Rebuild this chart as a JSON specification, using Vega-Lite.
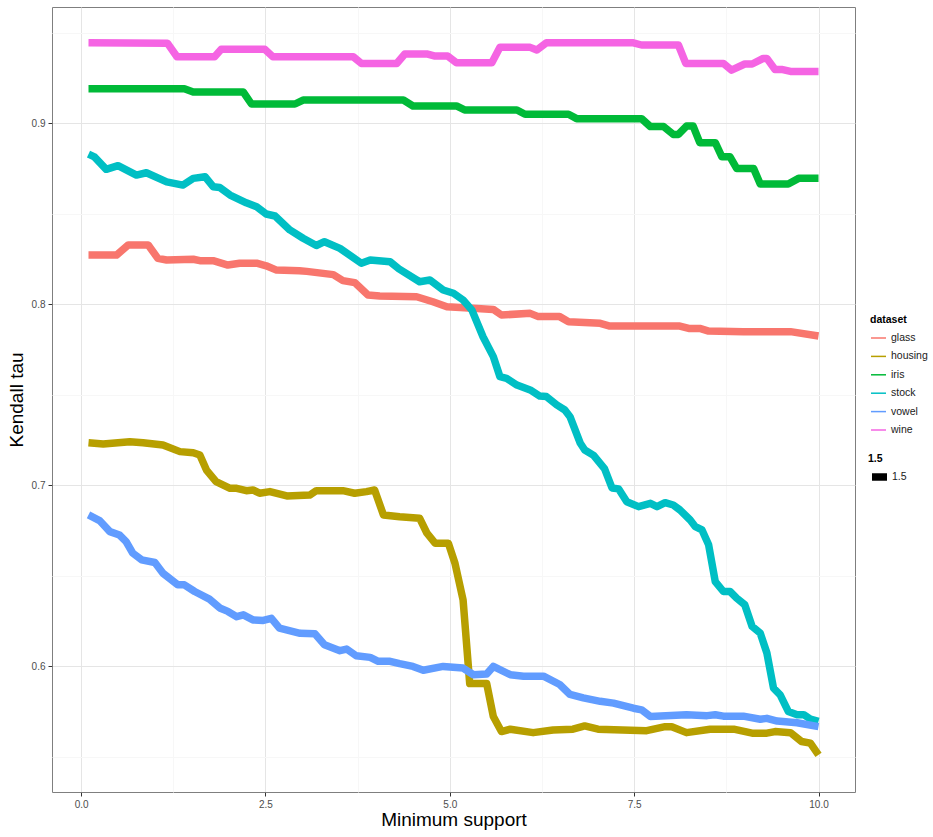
{
  "$schema": "https://vega.github.io/schema/vega-lite/v6.json",
  "autosize": {"type": "none"},
  "padding": {"left": 52, "top": 7, "right": 78, "bottom": 45},
  "width": 803,
  "height": 785,
  "background": "white",
  "config": {
    "font": "Liberation Sans",
    "view": {"stroke": "#7f7f7f", "strokeWidth": 1},
    "axis": {
      "domain": false,
      "tickSize": 4,
      "tickWidth": 1,
      "labelFontSize": 10,
      "labelColor": "#4d4d4d",
      "titleFontSize": 19,
      "titleFontWeight": "normal",
      "titleColor": "#000000",
      "gridWidth": 1
    }
  },
  "data": {"values": [
    {"dataset":"glass","x":0.1,"y":0.8272},{"dataset":"glass","x":0.48,"y":0.8272},{"dataset":"glass","x":0.64,"y":0.8328},{"dataset":"glass","x":0.91,"y":0.8328},{"dataset":"glass","x":1.04,"y":0.8254},{"dataset":"glass","x":1.16,"y":0.8245},{"dataset":"glass","x":1.52,"y":0.8249},{"dataset":"glass","x":1.61,"y":0.8241},{"dataset":"glass","x":1.79,"y":0.8241},{"dataset":"glass","x":1.99,"y":0.8217},{"dataset":"glass","x":2.15,"y":0.8227},{"dataset":"glass","x":2.38,"y":0.8227},{"dataset":"glass","x":2.51,"y":0.8213},{"dataset":"glass","x":2.65,"y":0.8189},{"dataset":"glass","x":2.96,"y":0.8186},{"dataset":"glass","x":3.06,"y":0.8182},{"dataset":"glass","x":3.42,"y":0.8164},{"dataset":"glass","x":3.55,"y":0.8131},{"dataset":"glass","x":3.71,"y":0.812},{"dataset":"glass","x":3.89,"y":0.8051},{"dataset":"glass","x":4.05,"y":0.8046},{"dataset":"glass","x":4.55,"y":0.8042},{"dataset":"glass","x":4.77,"y":0.8014},{"dataset":"glass","x":4.96,"y":0.7987},{"dataset":"glass","x":5.14,"y":0.7983},{"dataset":"glass","x":5.59,"y":0.7972},{"dataset":"glass","x":5.7,"y":0.7941},{"dataset":"glass","x":6.09,"y":0.795},{"dataset":"glass","x":6.2,"y":0.7932},{"dataset":"glass","x":6.49,"y":0.7932},{"dataset":"glass","x":6.61,"y":0.7904},{"dataset":"glass","x":7.04,"y":0.7895},{"dataset":"glass","x":7.17,"y":0.788},{"dataset":"glass","x":8.12,"y":0.788},{"dataset":"glass","x":8.24,"y":0.7867},{"dataset":"glass","x":8.39,"y":0.7867},{"dataset":"glass","x":8.51,"y":0.7852},{"dataset":"glass","x":8.98,"y":0.7849},{"dataset":"glass","x":9.62,"y":0.7849},{"dataset":"glass","x":10.0,"y":0.7825},
    {"dataset":"housing","x":0.1,"y":0.7235},{"dataset":"housing","x":0.3,"y":0.7228},{"dataset":"housing","x":0.66,"y":0.7241},{"dataset":"housing","x":0.84,"y":0.7235},{"dataset":"housing","x":1.11,"y":0.7223},{"dataset":"housing","x":1.34,"y":0.7186},{"dataset":"housing","x":1.52,"y":0.718},{"dataset":"housing","x":1.61,"y":0.7167},{"dataset":"housing","x":1.7,"y":0.7084},{"dataset":"housing","x":1.83,"y":0.702},{"dataset":"housing","x":2.02,"y":0.6983},{"dataset":"housing","x":2.11,"y":0.6983},{"dataset":"housing","x":2.24,"y":0.697},{"dataset":"housing","x":2.33,"y":0.6974},{"dataset":"housing","x":2.42,"y":0.6956},{"dataset":"housing","x":2.56,"y":0.6965},{"dataset":"housing","x":2.79,"y":0.6941},{"dataset":"housing","x":3.1,"y":0.6946},{"dataset":"housing","x":3.19,"y":0.697},{"dataset":"housing","x":3.55,"y":0.697},{"dataset":"housing","x":3.71,"y":0.6956},{"dataset":"housing","x":3.87,"y":0.6965},{"dataset":"housing","x":3.98,"y":0.6974},{"dataset":"housing","x":4.1,"y":0.6836},{"dataset":"housing","x":4.32,"y":0.6826},{"dataset":"housing","x":4.59,"y":0.6818},{"dataset":"housing","x":4.69,"y":0.6735},{"dataset":"housing","x":4.8,"y":0.668},{"dataset":"housing","x":4.98,"y":0.668},{"dataset":"housing","x":5.07,"y":0.6569},{"dataset":"housing","x":5.18,"y":0.6366},{"dataset":"housing","x":5.27,"y":0.5904},{"dataset":"housing","x":5.5,"y":0.5904},{"dataset":"housing","x":5.59,"y":0.5722},{"dataset":"housing","x":5.7,"y":0.5639},{"dataset":"housing","x":5.82,"y":0.5652},{"dataset":"housing","x":6.13,"y":0.5633},{"dataset":"housing","x":6.4,"y":0.5648},{"dataset":"housing","x":6.67,"y":0.5652},{"dataset":"housing","x":6.83,"y":0.567},{"dataset":"housing","x":7.01,"y":0.5652},{"dataset":"housing","x":7.67,"y":0.5644},{"dataset":"housing","x":7.92,"y":0.5666},{"dataset":"housing","x":8.01,"y":0.5666},{"dataset":"housing","x":8.21,"y":0.5633},{"dataset":"housing","x":8.53,"y":0.5652},{"dataset":"housing","x":8.85,"y":0.5652},{"dataset":"housing","x":9.1,"y":0.563},{"dataset":"housing","x":9.3,"y":0.563},{"dataset":"housing","x":9.41,"y":0.5639},{"dataset":"housing","x":9.62,"y":0.5633},{"dataset":"housing","x":9.77,"y":0.5584},{"dataset":"housing","x":9.89,"y":0.5575},{"dataset":"housing","x":10.0,"y":0.551},
    {"dataset":"iris","x":0.1,"y":0.9191},{"dataset":"iris","x":1.4,"y":0.9191},{"dataset":"iris","x":1.52,"y":0.9173},{"dataset":"iris","x":2.2,"y":0.9173},{"dataset":"iris","x":2.31,"y":0.9107},{"dataset":"iris","x":2.9,"y":0.9107},{"dataset":"iris","x":3.01,"y":0.9129},{"dataset":"iris","x":4.37,"y":0.9129},{"dataset":"iris","x":4.5,"y":0.9096},{"dataset":"iris","x":5.09,"y":0.9096},{"dataset":"iris","x":5.2,"y":0.9074},{"dataset":"iris","x":5.91,"y":0.9074},{"dataset":"iris","x":6.02,"y":0.905},{"dataset":"iris","x":6.61,"y":0.905},{"dataset":"iris","x":6.72,"y":0.9026},{"dataset":"iris","x":7.6,"y":0.9026},{"dataset":"iris","x":7.72,"y":0.8982},{"dataset":"iris","x":7.9,"y":0.8982},{"dataset":"iris","x":8.03,"y":0.8939},{"dataset":"iris","x":8.1,"y":0.8939},{"dataset":"iris","x":8.21,"y":0.8985},{"dataset":"iris","x":8.3,"y":0.8985},{"dataset":"iris","x":8.39,"y":0.8893},{"dataset":"iris","x":8.6,"y":0.8893},{"dataset":"iris","x":8.69,"y":0.8815},{"dataset":"iris","x":8.8,"y":0.8815},{"dataset":"iris","x":8.89,"y":0.8751},{"dataset":"iris","x":9.12,"y":0.8751},{"dataset":"iris","x":9.21,"y":0.8665},{"dataset":"iris","x":9.59,"y":0.8665},{"dataset":"iris","x":9.73,"y":0.8696},{"dataset":"iris","x":10.0,"y":0.8696},
    {"dataset":"stock","x":0.1,"y":0.883},{"dataset":"stock","x":0.18,"y":0.8815},{"dataset":"stock","x":0.34,"y":0.8746},{"dataset":"stock","x":0.5,"y":0.8766},{"dataset":"stock","x":0.75,"y":0.8714},{"dataset":"stock","x":0.885,"y":0.8727},{"dataset":"stock","x":1.16,"y":0.8677},{"dataset":"stock","x":1.38,"y":0.8659},{"dataset":"stock","x":1.52,"y":0.8696},{"dataset":"stock","x":1.68,"y":0.8705},{"dataset":"stock","x":1.79,"y":0.865},{"dataset":"stock","x":1.88,"y":0.8646},{"dataset":"stock","x":2.02,"y":0.8604},{"dataset":"stock","x":2.24,"y":0.8561},{"dataset":"stock","x":2.38,"y":0.8539},{"dataset":"stock","x":2.51,"y":0.8499},{"dataset":"stock","x":2.63,"y":0.8488},{"dataset":"stock","x":2.83,"y":0.8411},{"dataset":"stock","x":3.01,"y":0.8365},{"dataset":"stock","x":3.19,"y":0.8325},{"dataset":"stock","x":3.3,"y":0.8346},{"dataset":"stock","x":3.51,"y":0.8309},{"dataset":"stock","x":3.8,"y":0.8227},{"dataset":"stock","x":3.92,"y":0.8245},{"dataset":"stock","x":4.19,"y":0.8235},{"dataset":"stock","x":4.31,"y":0.8196},{"dataset":"stock","x":4.59,"y":0.8125},{"dataset":"stock","x":4.73,"y":0.8134},{"dataset":"stock","x":4.91,"y":0.8079},{"dataset":"stock","x":5.05,"y":0.8061},{"dataset":"stock","x":5.18,"y":0.8024},{"dataset":"stock","x":5.3,"y":0.7968},{"dataset":"stock","x":5.45,"y":0.7821},{"dataset":"stock","x":5.59,"y":0.7711},{"dataset":"stock","x":5.68,"y":0.76},{"dataset":"stock","x":5.77,"y":0.7591},{"dataset":"stock","x":5.91,"y":0.7554},{"dataset":"stock","x":6.09,"y":0.7527},{"dataset":"stock","x":6.22,"y":0.7493},{"dataset":"stock","x":6.31,"y":0.749},{"dataset":"stock","x":6.45,"y":0.7444},{"dataset":"stock","x":6.56,"y":0.7416},{"dataset":"stock","x":6.63,"y":0.7379},{"dataset":"stock","x":6.77,"y":0.7232},{"dataset":"stock","x":6.83,"y":0.7195},{"dataset":"stock","x":6.95,"y":0.7165},{"dataset":"stock","x":7.1,"y":0.709},{"dataset":"stock","x":7.2,"y":0.6985},{"dataset":"stock","x":7.29,"y":0.698},{"dataset":"stock","x":7.4,"y":0.6909},{"dataset":"stock","x":7.56,"y":0.6882},{"dataset":"stock","x":7.72,"y":0.69},{"dataset":"stock","x":7.81,"y":0.6882},{"dataset":"stock","x":7.92,"y":0.6904},{"dataset":"stock","x":8.03,"y":0.6891},{"dataset":"stock","x":8.12,"y":0.6864},{"dataset":"stock","x":8.26,"y":0.6808},{"dataset":"stock","x":8.33,"y":0.6771},{"dataset":"stock","x":8.42,"y":0.6753},{"dataset":"stock","x":8.51,"y":0.6671},{"dataset":"stock","x":8.6,"y":0.6468},{"dataset":"stock","x":8.71,"y":0.6413},{"dataset":"stock","x":8.8,"y":0.6413},{"dataset":"stock","x":8.89,"y":0.6376},{"dataset":"stock","x":9.0,"y":0.634},{"dataset":"stock","x":9.1,"y":0.622},{"dataset":"stock","x":9.21,"y":0.6183},{"dataset":"stock","x":9.3,"y":0.6073},{"dataset":"stock","x":9.39,"y":0.5879},{"dataset":"stock","x":9.48,"y":0.5842},{"dataset":"stock","x":9.59,"y":0.575},{"dataset":"stock","x":9.71,"y":0.5732},{"dataset":"stock","x":9.8,"y":0.5732},{"dataset":"stock","x":9.89,"y":0.5708},{"dataset":"stock","x":10.0,"y":0.5695},
    {"dataset":"vowel","x":0.1,"y":0.6836},{"dataset":"vowel","x":0.25,"y":0.6805},{"dataset":"vowel","x":0.39,"y":0.6744},{"dataset":"vowel","x":0.52,"y":0.6725},{"dataset":"vowel","x":0.61,"y":0.6689},{"dataset":"vowel","x":0.7,"y":0.6625},{"dataset":"vowel","x":0.82,"y":0.6588},{"dataset":"vowel","x":1.0,"y":0.6573},{"dataset":"vowel","x":1.11,"y":0.6514},{"dataset":"vowel","x":1.31,"y":0.645},{"dataset":"vowel","x":1.4,"y":0.645},{"dataset":"vowel","x":1.54,"y":0.6413},{"dataset":"vowel","x":1.74,"y":0.6371},{"dataset":"vowel","x":1.88,"y":0.6322},{"dataset":"vowel","x":1.99,"y":0.6303},{"dataset":"vowel","x":2.11,"y":0.6274},{"dataset":"vowel","x":2.2,"y":0.6284},{"dataset":"vowel","x":2.33,"y":0.6256},{"dataset":"vowel","x":2.47,"y":0.6253},{"dataset":"vowel","x":2.58,"y":0.6265},{"dataset":"vowel","x":2.69,"y":0.621},{"dataset":"vowel","x":2.97,"y":0.6182},{"dataset":"vowel","x":3.17,"y":0.6179},{"dataset":"vowel","x":3.3,"y":0.6119},{"dataset":"vowel","x":3.51,"y":0.6086},{"dataset":"vowel","x":3.6,"y":0.6095},{"dataset":"vowel","x":3.73,"y":0.6058},{"dataset":"vowel","x":3.92,"y":0.6049},{"dataset":"vowel","x":4.03,"y":0.6027},{"dataset":"vowel","x":4.19,"y":0.6027},{"dataset":"vowel","x":4.32,"y":0.6014},{"dataset":"vowel","x":4.5,"y":0.5999},{"dataset":"vowel","x":4.64,"y":0.5978},{"dataset":"vowel","x":4.91,"y":0.5999},{"dataset":"vowel","x":5.18,"y":0.599},{"dataset":"vowel","x":5.32,"y":0.5953},{"dataset":"vowel","x":5.5,"y":0.5957},{"dataset":"vowel","x":5.59,"y":0.5999},{"dataset":"vowel","x":5.82,"y":0.5953},{"dataset":"vowel","x":6.0,"y":0.5945},{"dataset":"vowel","x":6.27,"y":0.5945},{"dataset":"vowel","x":6.49,"y":0.5899},{"dataset":"vowel","x":6.63,"y":0.5844},{"dataset":"vowel","x":6.81,"y":0.5825},{"dataset":"vowel","x":7.04,"y":0.5806},{"dataset":"vowel","x":7.22,"y":0.5796},{"dataset":"vowel","x":7.49,"y":0.5768},{"dataset":"vowel","x":7.6,"y":0.5759},{"dataset":"vowel","x":7.72,"y":0.5722},{"dataset":"vowel","x":8.21,"y":0.5732},{"dataset":"vowel","x":8.49,"y":0.5727},{"dataset":"vowel","x":8.6,"y":0.5732},{"dataset":"vowel","x":8.71,"y":0.5724},{"dataset":"vowel","x":8.98,"y":0.5724},{"dataset":"vowel","x":9.21,"y":0.5707},{"dataset":"vowel","x":9.3,"y":0.5712},{"dataset":"vowel","x":9.44,"y":0.5697},{"dataset":"vowel","x":9.71,"y":0.5688},{"dataset":"vowel","x":10.0,"y":0.5666},
    {"dataset":"wine","x":0.1,"y":0.9445},{"dataset":"wine","x":1.17,"y":0.9443},{"dataset":"wine","x":1.3,"y":0.9368},{"dataset":"wine","x":1.81,"y":0.9368},{"dataset":"wine","x":1.9,"y":0.9409},{"dataset":"wine","x":2.49,"y":0.9409},{"dataset":"wine","x":2.6,"y":0.9368},{"dataset":"wine","x":3.69,"y":0.9368},{"dataset":"wine","x":3.8,"y":0.9331},{"dataset":"wine","x":4.28,"y":0.9331},{"dataset":"wine","x":4.39,"y":0.9383},{"dataset":"wine","x":4.7,"y":0.9383},{"dataset":"wine","x":4.8,"y":0.9372},{"dataset":"wine","x":4.97,"y":0.9372},{"dataset":"wine","x":5.09,"y":0.9335},{"dataset":"wine","x":5.57,"y":0.9335},{"dataset":"wine","x":5.68,"y":0.942},{"dataset":"wine","x":6.09,"y":0.942},{"dataset":"wine","x":6.18,"y":0.9405},{"dataset":"wine","x":6.31,"y":0.9445},{"dataset":"wine","x":7.49,"y":0.9445},{"dataset":"wine","x":7.6,"y":0.9433},{"dataset":"wine","x":8.1,"y":0.9433},{"dataset":"wine","x":8.2,"y":0.9331},{"dataset":"wine","x":8.71,"y":0.9331},{"dataset":"wine","x":8.82,"y":0.9294},{"dataset":"wine","x":9.0,"y":0.9328},{"dataset":"wine","x":9.1,"y":0.9328},{"dataset":"wine","x":9.25,"y":0.9359},{"dataset":"wine","x":9.3,"y":0.9359},{"dataset":"wine","x":9.41,"y":0.9298},{"dataset":"wine","x":9.5,"y":0.9298},{"dataset":"wine","x":9.62,"y":0.9287},{"dataset":"wine","x":10.0,"y":0.9287}
  ]},
  "mark": {"type": "line", "strokeJoin": "round", "strokeCap": "butt"},
  "encoding": {
    "x": {
      "field": "x", "type": "quantitative",
      "scale": {"domain": [-0.395, 10.495], "nice": false, "zero": false},
      "axis": {
        "title": "Minimum support",
        "values": [0, 1.25, 2.5, 3.75, 5, 6.25, 7.5, 8.75, 10],
        "labelExpr": "datum.value % 2.5 === 0 ? format(datum.value, '.1f') : ''",
        "labelPadding": 3,
        "titlePadding": 1,
        "gridColor": {"condition": {"test": "datum.value % 2.5 === 0", "value": "#e5e5e5"}, "value": "#f7f7f7"},
        "tickColor": {"condition": {"test": "datum.value % 2.5 === 0", "value": "#333333"}, "value": "transparent"}
      }
    },
    "y": {
      "field": "y", "type": "quantitative",
      "scale": {"domain": [0.5305, 0.9643], "nice": false, "zero": false},
      "axis": {
        "title": "Kendall tau",
        "values": [0.55, 0.6, 0.65, 0.7, 0.75, 0.8, 0.85, 0.9, 0.95],
        "labelExpr": "round(datum.value * 100) % 10 === 0 ? format(datum.value, '.1f') : ''",
        "labelPadding": 3,
        "titlePadding": 5,
        "gridColor": {"condition": {"test": "round(datum.value * 100) % 10 === 0", "value": "#e5e5e5"}, "value": "#f7f7f7"},
        "tickColor": {"condition": {"test": "round(datum.value * 100) % 10 === 0", "value": "#333333"}, "value": "transparent"}
      }
    },
    "color": {
      "field": "dataset", "type": "nominal",
      "scale": {"domain": ["glass", "housing", "iris", "stock", "vowel", "wine"], "range": ["#F8766D", "#B79F00", "#00BA38", "#00BFC4", "#619CFF", "#F564E3"]},
      "legend": {
        "title": "dataset", "orient": "none", "legendX": 818, "legendY": 308,
        "titleFontSize": 10.5, "titleFontWeight": "bold", "titleColor": "#000000", "titlePadding": 4,
        "labelFontSize": 10.5, "labelColor": "#1a1a1a", "labelOffset": 4,
        "symbolType": "stroke", "symbolSize": 225, "symbolStrokeWidth": 1.5, "rowPadding": 4.4
      }
    },
    "strokeWidth": {
      "datum": "1.5", "type": "ordinal",
      "scale": {"type": "ordinal", "domain": ["1.5"], "range": [7.5]},
      "legend": {
        "title": "1.5", "orient": "none", "legendX": 816, "legendY": 447,
        "titleFontSize": 10.5, "titleFontWeight": "bold", "titleColor": "#000000", "titlePadding": 1,
        "labelFontSize": 10.5, "labelColor": "#1a1a1a", "labelOffset": 1,
        "symbolType": "stroke", "symbolSize": 225, "symbolStrokeColor": "#000000"
      }
    }
  }
}
